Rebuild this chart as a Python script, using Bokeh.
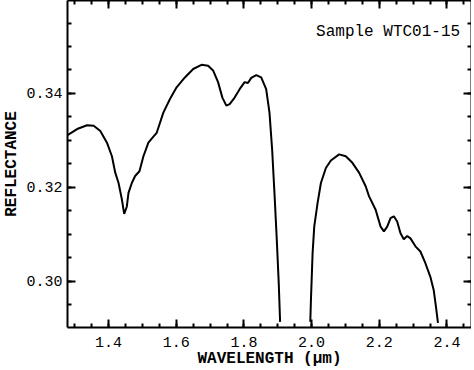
from bokeh.plotting import figure
from bokeh.models import (Range1d, LinearAxis, SingleIntervalTicker, NumeralTickFormatter, Label)
from bokeh.embed import file_html
from bokeh.resources import INLINE

# Segment 1 (before the 1.9 µm gap)
wl1 = [1.2784, 1.3069, 1.3363, 1.3559, 1.3755, 1.3951, 1.4098, 1.4196, 1.4294, 1.4392,
       1.4461, 1.4539, 1.4588, 1.4686, 1.4784, 1.4912, 1.5029, 1.5176, 1.5324, 1.5422,
       1.5618, 1.5814, 1.6010, 1.6255, 1.6500, 1.6745, 1.6941, 1.7088, 1.7235, 1.7363,
       1.7480, 1.7578, 1.7725, 1.7873, 1.8020, 1.8118, 1.8216, 1.8363, 1.8510, 1.8657,
       1.8755, 1.8833, 1.8902, 1.8971, 1.9029, 1.9069]
refl1 = [0.3311, 0.3324, 0.3332, 0.3331, 0.3320, 0.3295, 0.3266, 0.3231, 0.3209, 0.3174,
         0.3143, 0.3159, 0.3188, 0.3209, 0.3224, 0.3234, 0.3266, 0.3295, 0.3308, 0.3316,
         0.3359, 0.3388, 0.3413, 0.3434, 0.3452, 0.3461, 0.3459, 0.3449, 0.3424, 0.3391,
         0.3374, 0.3377, 0.3391, 0.3409, 0.3424, 0.3422, 0.3433, 0.3439, 0.3434, 0.3409,
         0.3359, 0.3281, 0.3188, 0.3088, 0.2995, 0.2913]

# Segment 2 (after the gap)
wl2 = [1.9961, 1.9980, 2.0029, 2.0078, 2.0176, 2.0275, 2.0422, 2.0569, 2.0814, 2.1010,
       2.1206, 2.1402, 2.1598, 2.1696, 2.1892, 2.2039, 2.2137, 2.2235, 2.2333, 2.2431,
       2.2529, 2.2627, 2.2725, 2.2824, 2.2922, 2.3069, 2.3216, 2.3363, 2.3510, 2.3608,
       2.3676, 2.3735]
refl2 = [0.2913, 0.2959, 0.3059, 0.3116, 0.3166, 0.3209, 0.3241, 0.3257, 0.3270, 0.3266,
         0.3252, 0.3231, 0.3202, 0.3181, 0.3152, 0.3116, 0.3106, 0.3116, 0.3134, 0.3138,
         0.3127, 0.3102, 0.3089, 0.3096, 0.3091, 0.3074, 0.3063, 0.3038, 0.3009, 0.2981,
         0.2945, 0.2911]

sample_label = "Sample WTC01-15"
x_label = "WAVELENGTH (\u03bcm)"
y_label = "REFLECTANCE"

FONT = "Liberation Mono"

p = figure(frame_width=404, frame_height=327, output_backend="svg", toolbar_location=None,
           x_range=Range1d(1.2785, 2.4726), y_range=Range1d(0.2901, 0.3598),
           x_axis_location=None, y_axis_location=None,
           min_border_left=0, min_border_right=0, min_border_top=0, min_border_bottom=0)
p.grid.visible = False
p.outline_line_color = None
p.background_fill_color = None
p.border_fill_color = None

def style(ax, labels=True):
    ax.major_tick_in = 8
    ax.major_tick_out = 0
    ax.minor_tick_in = 4
    ax.minor_tick_out = 0
    ax.axis_line_width = 2
    ax.major_tick_line_width = 2
    ax.minor_tick_line_width = 2
    ax.axis_line_color = "black"
    ax.major_tick_line_color = "black"
    ax.minor_tick_line_color = "black"
    ax.major_label_text_font = FONT
    ax.major_label_text_font_size = "15px" if labels else "0px"
    ax.major_label_text_color = "black"
    ax.axis_label_text_font = FONT
    ax.axis_label_text_font_size = "16px"
    ax.axis_label_text_font_style = "bold"
    ax.axis_label_text_color = "black"

xb = LinearAxis(ticker=SingleIntervalTicker(interval=0.2, num_minor_ticks=4),
                formatter=NumeralTickFormatter(format="0.0"), axis_label=x_label)
style(xb)
xb.major_label_standoff = 9
xb.axis_label_standoff = 0
p.add_layout(xb, "below")

yl = LinearAxis(ticker=SingleIntervalTicker(interval=0.02, num_minor_ticks=4),
                formatter=NumeralTickFormatter(format="0.00"), axis_label=y_label)
style(yl)
yl.major_label_standoff = 5
yl.axis_label_standoff = 2
p.add_layout(yl, "left")

xt = LinearAxis(ticker=SingleIntervalTicker(interval=0.2, num_minor_ticks=4))
style(xt, labels=False)
xt.major_label_standoff = 0
p.add_layout(xt, "above")

yr = LinearAxis(ticker=SingleIntervalTicker(interval=0.02, num_minor_ticks=4))
style(yr, labels=False)
yr.major_label_standoff = 0
p.add_layout(yr, "right")

p.line(wl1, refl1, line_color="black", line_width=2)
p.line(wl2, refl2, line_color="black", line_width=2)

p.add_layout(Label(x=2.439, y=0.3531, text=sample_label, text_align="right",
                   text_baseline="middle", text_font=FONT, text_font_size="16px",
                   text_color="black"))

open("out.html", "w").write(file_html(p, INLINE))
